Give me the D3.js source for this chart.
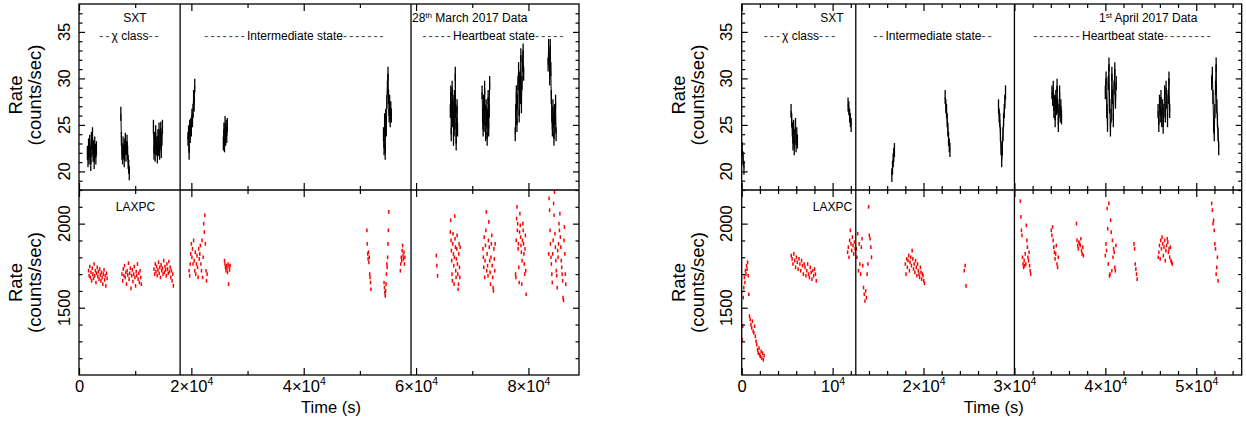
<!DOCTYPE html>
<html><head><meta charset="utf-8">
<script src="https://cdn.jsdelivr.net/npm/d3@7"></script>
<style>
body{margin:0;background:#fff}
text{font-family:"Liberation Sans",Arial,Helvetica,sans-serif;fill:#000}
</style>
</head><body>
<svg id="c" width="1246" height="424"></svg>
<script>
// ---------------- DATA ----------------
// Each segment: [startTime (s), bin (s), [rates]]
const sxt28 = [
 [1500,100,[22.0,21.2,22.8,21.5,23.2,22.0,20.8,23.5,22.3,24.0,21.8,22.6,21.0,23.0,22.2,21.5,22.5]],
 [7450,100,[26.2,23.5,22.0,21.5,23.0,22.2,21.2,22.8,23.4,21.8,22.5,23.2,22.0,21.0,20.5,19.8]],
 [13250,100,[24.8,22.0,23.5,21.8,24.2,22.5,23.0,21.6,23.8,22.4,24.5,22.0,23.2,24.6,22.2,23.5,24.8]],
 [19400,100,[23.5,24.2,22.0,24.8,23.8,25.0,24.5,26.0,25.5,26.5,28.0,27.2,29.2]],
 [25700,100,[23.0,24.5,22.8,25.2,23.5,24.8,23.8,25.0]],
 [54200,100,[24.0,22.5,25.5,22.0,26.0,24.5,27.5,29.0,30.5,28.0,26.0,27.5,25.5,26.8,26.0]],
 [66100,80,[26.5,28.5,24.0,27.0,29.0,25.5,27.5,23.5,26.0,28.0,24.5,30.5,26.5,23.0,25.0,27.0,24.5]],
 [71750,90,[28.5,26.0,24.5,27.5,25.0,29.0,26.5,24.0,27.0,25.5,23.5,26.0,28.0,24.5,26.5,29.5]],
 [77650,100,[24.0,26.5,28.5,25.0,27.5,29.5,31.0,26.0,30.0,28.0,32.5,27.0,29.5,31.5,33.0,30.5]],
 [83500,95,[31.5,33.5,32.0,30.0,33.5,31.0,28.0,26.0,24.5,27.0,25.5,23.5,26.5,25.0,27.5,24.0]]
];
const lax28 = [
 [1700,110,[1720,1690,1745,1680,1710,1660,1735,1700,1675,1760,1690,1720,1650,1705,1740,1685,1715,1670,1730,1695,1660,1710,1680,1640,1700,1725,1665,1690,1630,1705,1675]],
 [7650,115,[1700,1660,1730,1690,1750,1680,1710,1640,1720,1695,1765,1670,1705,1735,1615,1690,1725,1655,1700,1745,1680,1630,1715,1690,1760,1670,1705,1650,1720,1680,1640]],
 [13350,115,[1730,1700,1760,1715,1745,1690,1725,1770,1705,1740,1680,1755,1720,1735,1700,1780,1710,1745,1725,1690,1760,1730,1705,1775,1715,1740,1680,1720,1660,1700,1630]],
 [19600,100,[1720,1690,1760,1820,1880,1800,1850,1760,1900,1780,1720,1830,1700,1760,1810,1740,1680,1850,1790,1820,1870,1760,1720,1900,1680,1800,2000,1950,2050,1880,1720,1660,1700]],
 [25900,90,[1780,1760,1740,1720,1750,1735,1710,1760,1640,1745,1725,1750]],
 [51250,70,[1960,1880,1820,1790,1830,1770,1800,1700,1680,1650,1610]],
 [54300,70,[1650,1620,1590,1570,1600,1640,1700,1760,1740,1800,1880,1960,2070]],
 [57200,80,[1720,1760,1800,1780,1840,1870,1810,1790,1830,1760,1800]],
 [63600,110,[1810,1750,1690]],
 [66100,60,[1950,2020,1900,1840,1780,1700,1660,1880,1940,1820,1750,1640,1800,2045,1910,1860,1720,1680,1790,1850,1930,1760,1700,1610,1640,1820,1880,1740,1680,1860]],
 [71900,75,[1850,1800,1740,1920,1680,1780,1870,1960,2070,1720,1820,1750,1690,1900,2010,1860,1780,1710,1640,1800,1880,1930,1750,1680,1620,1600,1850,1790,1720,1880]],
 [77700,65,[1700,1680,1900,2030,2100,1960,2000,1850,1880,1740,1650,1950,2060,1990,1920,1870,1830,1640,1780,1900,2000,1960,1880,1820,1760,1700,1850,1930,1720,1580]],
 [83600,80,[1820,2150,2080,1960,1880,1800,1760,1700,1650,1820,1900,2120,2050,2188,1940,1860,1780,1720,1690,1620,1840,1800,1880,2000,1960,2060,1920,1860,1780,1740,1700,1660,1560,1544,1900,1980,1820,1700,1640]]
];
const sxt01 = [
 [50,100,[22.4,21.4,20.4]],
 [5430,70,[26.5,25.5,24.5,23.0,24.8,22.5,23.8,25.0,22.8,24.0,23.2]],
 [11700,85,[27.2,26.8,26.0,25.5,25.0]],
 [16520,70,[19.6,20.4,21.2,21.8,22.3]],
 [22380,75,[28.0,27.0,26.5,25.5,24.5,23.5,22.8,22.3]],
 [28250,70,[27.0,26.0,25.5,24.0,22.5,21.2,22.5,24.0,25.5,26.5,27.5,28.5]],
 [34130,70,[28.5,27.8,29.0,26.5,27.5,25.5,28.0,26.8,29.2,27.0,25.0,26.5,28.5,26.0,27.0,25.8]],
 [40000,80,[28.5,30.0,26.5,25.0,29.5,31.5,27.0,24.5,26.0,30.5,28.0,25.5,29.0,31.0,27.5,29.5]],
 [45800,80,[26.5,25.0,27.5,26.0,28.0,25.5,27.0,24.8,26.5,28.5,26.0,29.0,27.5,25.5,28.0,30.0,26.5]],
 [51700,70,[29.5,30.5,28.0,25.0,24.0,26.5,29.0,31.5,27.0,25.5,24.0,22.5]]
];
const lax01 = [
 [50,60,[1310,1390,1560,1620,1680,1650,1720,1700,1750,1730,1770,1690]],
 [780,80,[1580,1450,1430,1400,1380,1420,1360,1350,1390,1330,1300,1280,1250,1230,1260,1220,1210,1240,1200,1230,1190,1215]],
 [5450,95,[1810,1790,1760,1820,1780,1740,1800,1770,1730,1790,1760,1720,1780,1750,1700,1760,1740,1690,1720,1760,1700,1680,1740,1710,1670,1720,1690,1730,1700,1660]],
 [11650,75,[1830,1860,1800,1900,1960,1880,1840,1920,1870,1820,1890,1850]],
 [12600,80,[1850,1800,1940,1720,1880,1760,1700,1860,1910,1750,1620,1580,1540,1600,1560,1700,1760,2100,1930,1910,1860,1800]],
 [18000,75,[1760,1700,1790,1740,1780,1810,1720,1770,1800,1750,1840,1790,1730,1760,1710,1780,1740,1690,1760,1720,1700,1680,1740,1710,1670,1700,1690,1660,1645]],
 [24480,100,[1720,1750,1630]],
 [30650,60,[2134,2040,1960,1930,1800,1760,1740,1780,1750,1820,1760,1990,1900,1860,1800,1780,1830,1750,1720,1700]],
 [34050,70,[1960,1930,1980,1900,1860,1830,1790,1820,1870,1760,1740,1800]],
 [36820,70,[2000,1900,1870,1850,1890,1880,1870,1910,1840,1820,1860,1810]],
 [40000,65,[1810,1880,1840,2090,1970,1760,2120,1690,1700,2020,1950,1720,1900,1800,1850,1830,1740,1720,1870]],
 [43150,70,[1880,1850,1760,1730,1700,1670]],
 [45820,70,[1800,1830,1870,1790,1900,1850,1920,1880,1810,1860,1900,1780,1840,1870,1910,1890,1830,1850,1800,1860,1780,1770,1760]],
 [51700,70,[2120,2080,2000,2020,1960,1880,1850,1700,1740,1800,1660]]
];
const sxtErr = 0.75, laxErr = 11;
const bounds28 = [18000, 59100];
const bounds01 = [12550, 30000];
const xTicks28 = [0,20000,40000,60000,80000];
const xTicks01 = [0,10000,20000,30000,40000,50000];
const yTicksTop = [20,25,30,35];
const yTicksBot = [1500,2000];

// ---------------- LAYOUT ----------------
const svg = d3.select('#c');
const TOP = 4, MID = 190, BOT = 375, PW = 500;
const yTop = d3.scaleLinear().domain([18,38]).range([MID,TOP]);
const yBot = d3.scaleLinear().domain([1100,2200]).range([BOT,MID]);

const panels = [
 {x0:79, dom:[0,89000], major:xTicks28, minorStep:10000, sxt:sxt28, lax:lax28, bounds:bounds28,
  ann:[
   {x:135, y:21.5, parts:[["SXT",0]]},
   {x:130, y:40, parts:[["--",1],["χ class",0],["--",1]]},
   {x:295, y:40, parts:[["-------",1],["Intermediate state",0],["-------",1]]},
   {x:494, y:40, parts:[["-----",1],["Heartbeat state",0],["-----",1]]},
   {x:135.5, y:210.5, parts:[["LAXPC",0]]}
  ], date:{x:412, pre:"28", sup:"th", post:" March 2017 Data"}},
 {x0:741.7, dom:[0,55000], major:xTicks01, minorStep:2000, sxt:sxt01, lax:lax01, bounds:bounds01,
  ann:[
   {x:832, y:21.5, parts:[["SXT",0]]},
   {x:800.5, y:40, parts:[["---",1],["χ class",0],["---",1]]},
   {x:933.5, y:40, parts:[["--",1],["Intermediate state",0],["--",1]]},
   {x:1123, y:40, parts:[["--------",1],["Heartbeat state",0],["--------",1]]},
   {x:832.5, y:210.5, parts:[["LAXPC",0]]}
  ], date:{x:1099, pre:"1", sup:"st", post:" April 2017 Data"}}
];

function expand(segs){ return segs.map(([t0,dt,vals]) => vals.map((v,i)=>({t:t0+i*dt, v}))); }

function fmtX(sel){
  sel.each(function(d){
    const t = d3.select(this); t.text(null);
    if(d===0){ t.append('tspan').text('0'); return; }
    const m = d/1e4;
    t.append('tspan').text(m===1 ? '10' : m+'×10');
    t.append('tspan').attr('font-size',10.5).attr('dy',-7).text('4');
  });
}

panels.forEach(p => {
  const x = d3.scaleLinear().domain(p.dom).range([p.x0, p.x0+PW]);
  const g = svg.append('g');
  const minor = d3.range(p.dom[0], p.dom[1]+1, p.minorStep).filter(v => !p.major.includes(v));

  // data: LAXPC
  const lax = expand(p.lax);
  g.append('g').selectAll('g').data(lax).join('g').selectAll('line').data(d=>d).join('line')
    .attr('x1',d=>x(d.t)).attr('x2',d=>x(d.t))
    .attr('y1',d=>yBot(d.v-laxErr)).attr('y2',d=>yBot(d.v+laxErr))
    .attr('stroke','#ff0000').attr('stroke-width',1.5);

  // data: SXT
  const sxt = expand(p.sxt);
  const line = d3.line().x(d=>x(d.t)).y(d=>yTop(d.v));
  g.append('g').selectAll('path').data(sxt).join('path')
    .attr('d',line).attr('fill','none').attr('stroke','#000').attr('stroke-width',1);
  g.append('g').selectAll('g').data(sxt).join('g').selectAll('line').data(d=>d).join('line')
    .attr('x1',d=>x(d.t)).attr('x2',d=>x(d.t))
    .attr('y1',d=>yTop(d.v-sxtErr)).attr('y2',d=>yTop(d.v+sxtErr))
    .attr('stroke','#000').attr('stroke-width',1.3);

  // state boundaries
  g.append('g').selectAll('line').data(p.bounds).join('line')
    .attr('x1',d=>x(d)).attr('x2',d=>x(d)).attr('y1',TOP).attr('y2',BOT)
    .attr('stroke','#000').attr('stroke-width',1.3);

  // x axes (ticks inward on every horizontal edge)
  const xa = (gen, y, sz, vals, lab) => {
    const a = g.append('g').attr('transform',`translate(0,${y})`)
      .call(gen(x).tickValues(vals).tickSize(sz).tickPadding(5).tickFormat(lab ? null : ''));
    a.select('.domain').remove();
    a.selectAll('.tick line').attr('stroke','#000').attr('stroke-width',1.2);
    return a;
  };
  const xb = xa(d3.axisBottom, BOT, -7, p.major, true);
  xb.selectAll('text').attr('font-size',16.5).attr('font-family','"Liberation Sans",Arial,sans-serif').call(fmtX);
  xa(d3.axisBottom, BOT, -4, minor, false);
  xa(d3.axisBottom, MID, -7, p.major, false);
  xa(d3.axisBottom, MID, -4, minor, false);
  xa(d3.axisTop, MID, -7, p.major, false);
  xa(d3.axisTop, MID, -4, minor, false);
  xa(d3.axisTop, TOP, -7, p.major, false);
  xa(d3.axisTop, TOP, -4, minor, false);

  // y axes (inward ticks left and right)
  const ya = (gen, xpos, sc, vals, sz) => {
    const a = g.append('g').attr('transform',`translate(${xpos},0)`)
      .call(gen(sc).tickValues(vals).tickSize(sz).tickFormat(''));
    a.select('.domain').remove();
    a.selectAll('.tick line').attr('stroke','#000').attr('stroke-width',1.2);
  };
  const topMinor = d3.range(19,38).filter(v=>!yTicksTop.includes(v));
  const botMinor = d3.range(1200,2201,100).filter(v=>!yTicksBot.includes(v));
  ya(d3.axisLeft, p.x0, yTop, yTicksTop, -6); ya(d3.axisLeft, p.x0, yTop, topMinor, -3.5);
  ya(d3.axisRight, p.x0+PW, yTop, yTicksTop, -6); ya(d3.axisRight, p.x0+PW, yTop, topMinor, -3.5);
  ya(d3.axisLeft, p.x0, yBot, yTicksBot, -6); ya(d3.axisLeft, p.x0, yBot, botMinor, -3.5);
  ya(d3.axisRight, p.x0+PW, yBot, yTicksBot, -6); ya(d3.axisRight, p.x0+PW, yBot, botMinor, -3.5);

  // rotated y tick labels
  const ylab = (sc, vals) => g.append('g').selectAll('text').data(vals).join('text')
    .attr('transform', d=>`translate(${p.x0-9.5},${sc(d)}) rotate(-90)`)
    .attr('text-anchor','middle').attr('font-size',16.5).text(d=>d);
  ylab(yTop, yTicksTop); ylab(yBot, yTicksBot);

  // frames
  g.append('rect').attr('x',p.x0).attr('y',TOP).attr('width',PW).attr('height',BOT-TOP)
    .attr('fill','none').attr('stroke','#000').attr('stroke-width',1.3);
  g.append('line').attr('x1',p.x0).attr('x2',p.x0+PW).attr('y1',MID).attr('y2',MID)
    .attr('stroke','#000').attr('stroke-width',1.3);

  // axis titles
  [[ (TOP+MID)/2 - 2 ], [ (MID+BOT)/2 ]].forEach(([cy]) => {
    g.append('text').attr('transform',`translate(${p.x0-57},${cy}) rotate(-90)`)
      .attr('text-anchor','middle').attr('font-size',18.5).text('Rate');
    g.append('text').attr('transform',`translate(${p.x0-38},${cy}) rotate(-90)`)
      .attr('text-anchor','middle').attr('font-size',18.5).text('(counts/sec)');
  });
  g.append('text').attr('x',p.x0+PW/2+2).attr('y',413).attr('text-anchor','middle')
    .attr('font-size',16.5).text('Time (s)');

  // annotations
  p.ann.forEach(a => {
    const t = g.append('text').attr('x',a.x).attr('y',a.y).attr('text-anchor','middle').attr('font-size',12);
    a.parts.forEach(([s,dash]) => {
      const ts = t.append('tspan').text(s);
      if(dash) ts.attr('letter-spacing',2.1).attr('fill','#444');
    });
  });
  const dt = g.append('text').attr('x',p.date.x).attr('y',21.5).attr('font-size',12);
  dt.append('tspan').text(p.date.pre);
  dt.append('tspan').attr('font-size',8).attr('dy',-4).text(p.date.sup);
  dt.append('tspan').attr('dy',4).text(p.date.post);
});
</script>
</body></html>
